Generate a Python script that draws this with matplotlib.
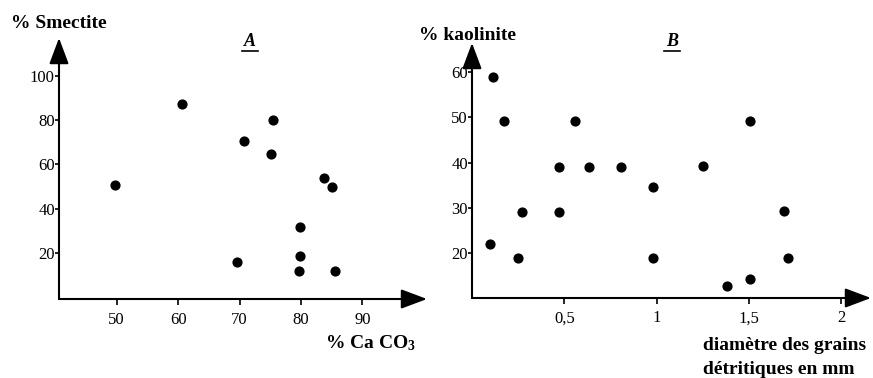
import matplotlib.pyplot as plt
from matplotlib.lines import Line2D

# Panel A: % CaCO3 vs % smectite
calcite = [49.7, 60.7, 75.4, 70.7, 75.1, 83.7, 85.1, 79.8, 79.8, 69.6, 79.6, 85.6]
smectite = [50.7, 87.2, 79.8, 70.5, 64.6, 53.6, 49.7, 31.8, 18.6, 15.9, 11.9, 11.9]
a_xticks = [50, 60, 70, 80, 90]
a_yticks = [20, 40, 60, 80, 100]

# Panel B: grain diameter (mm) vs % kaolinite
diametre = [0.113, 0.171, 0.095, 0.25, 0.27, 0.471, 0.471, 0.559, 0.635, 0.807,
            0.98, 0.98, 1.25, 1.503, 1.381, 1.503, 1.687, 1.712]
kaolinite = [58.8, 49.2, 22.1, 19.0, 29.2, 39.1, 29.2, 49.2, 39.1, 39.1,
             34.6, 19.0, 39.2, 49.2, 12.9, 14.4, 29.4, 19.1]
b_xticks = [0.5, 1, 1.5, 2]
b_xlabels = ['0,5', '1', '1,5', '2']
b_yticks = [20, 30, 40, 50, 60]

plt.rcParams['font.family'] = 'Liberation Serif'
plt.rcParams['mathtext.fontset'] = 'custom'
plt.rcParams['mathtext.rm'] = 'Liberation Serif:bold'
plt.rcParams['mathtext.default'] = 'rm'

W, H = 873, 378
fig = plt.figure(figsize=(W / 100, H / 100), dpi=100)


def px_axes(x0, x1, y_bottom, y_top):
    return fig.add_axes([x0 / W, 1 - y_bottom / H, (x1 - x0) / W, (y_bottom - y_top) / H])


def arrow_axes(ax):
    for sp in ax.spines.values():
        sp.set_visible(False)
    ap = dict(arrowstyle='-|>,head_length=0.8,head_width=0.3', lw=1.5,
              color='black', mutation_scale=20, shrinkA=0, shrinkB=0)
    ax.annotate('', xy=(1, 0), xytext=(0, 0), xycoords='axes fraction',
                arrowprops=ap, annotation_clip=False)
    ax.annotate('', xy=(0, 1), xytext=(0, 0), xycoords='axes fraction',
                arrowprops=ap, annotation_clip=False)
    ax.tick_params(axis='y', direction='out', length=3, width=1.2, pad=0, labelsize=12)
    ax.tick_params(axis='x', direction='out', length=4, width=1.2, pad=5, labelsize=12)
    ax.patch.set_visible(False)


axA = px_axes(59, 427, 299, 38)
axA.set_xlim(40.6, 100.5)
axA.set_ylim(-0.8, 117)
axA.scatter(calcite, smectite, s=40, color='black', zorder=3)
axA.set_xticks(a_xticks)
axA.set_yticks(a_yticks)
arrow_axes(axA)

axB = px_axes(472, 871, 298, 43)
axB.set_xlim(0.0, 2.16)
axB.set_ylim(10.2, 66.3)
axB.scatter(diametre, kaolinite, s=40, color='black', zorder=3)
axB.set_xticks(b_xticks)
axB.set_xticklabels(b_xlabels)
axB.set_yticks(b_yticks)
arrow_axes(axB)


def ftext(x, y, s, **kw):
    fig.text(x / W, 1 - y / H, s, **kw)


bold = dict(fontsize=14, fontweight='bold', va='center')
ftext(11, 23, '% Smectite', ha='left', **bold)
ftext(419, 36, '% kaolinite', ha='left', **bold)
ftext(370, 343, r'% Ca CO$_3$', ha='center', **bold)
ftext(703, 346, 'diamètre des grains', ha='left', **bold)
ftext(703, 370, 'détritiques en mm', ha='left', **bold)

# panel letters, italic bold underlined
for letter, cx in [('A', 250), ('B', 672)]:
    ftext(cx, 42, letter, ha='center', fontsize=13, fontweight='bold', style='italic', va='center')
    fig.add_artist(Line2D([(cx - 8) / W, (cx + 8) / W], [1 - 51 / H, 1 - 51 / H],
                          color='black', lw=1.2))

fig.savefig('out.png', dpi=100)
